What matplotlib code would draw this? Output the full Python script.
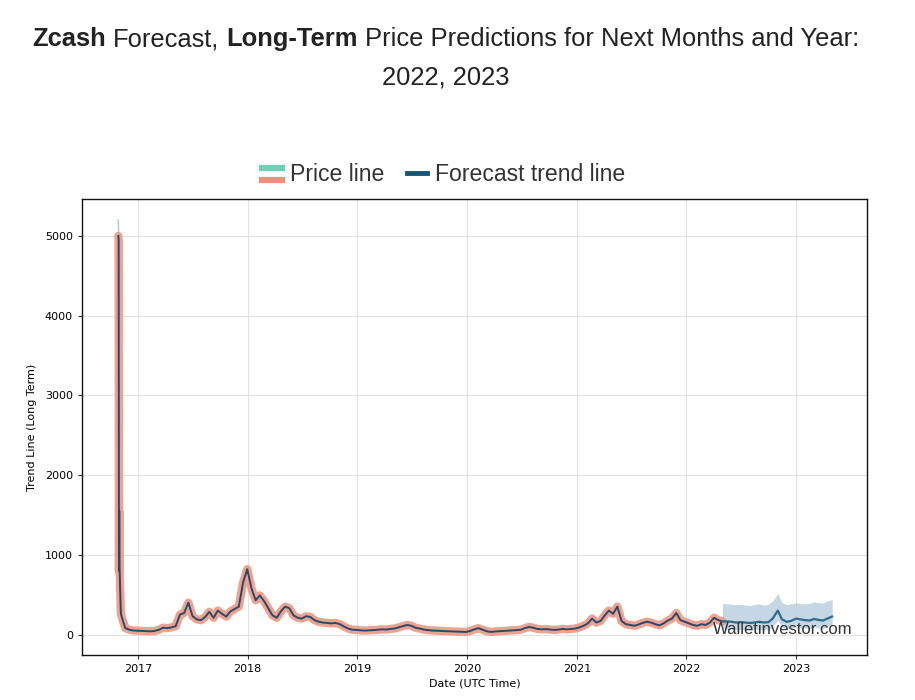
import matplotlib
matplotlib.use("Agg")
import matplotlib.pyplot as plt
import matplotlib.dates as mdates
from matplotlib.lines import Line2D
from matplotlib.legend_handler import HandlerBase
import numpy as np
import pandas as pd

# ---------------- data ----------------
early_dates = ["2016-10-28", "2016-10-29", "2016-10-30", "2016-10-31", "2016-11-01",
               "2016-11-02", "2016-11-03", "2016-11-04", "2016-11-05"]
early_prices = [5000, 4950, 800, 1550, 850, 700, 500, 380, 300]
early_high = [5200, 5000, 1000, 1600, 900, 750, 520, 400, 310]

price_start = "2016-11-06"  # bi-weekly samples
prices = [250, 80, 60, 50, 48, 45, 42, 40, 45, 60,
          85, 80, 90, 105, 250, 270, 400, 230, 190, 180,
          220, 285, 210, 300, 260, 225, 290, 320, 350, 650,
          820, 580, 430, 490, 420, 330, 240, 210, 290, 350,
          330, 240, 210, 200, 230, 220, 180, 160, 150, 145,
          140, 145, 130, 100, 75, 60, 58, 52, 50, 52,
          55, 60, 65, 62, 70, 75, 90, 105, 120, 110,
          85, 75, 62, 55, 50, 48, 45, 42, 40, 38,
          35, 33, 32, 45, 65, 80, 60, 40, 32, 38,
          42, 45, 48, 52, 55, 60, 80, 95, 85, 70,
          65, 68, 62, 58, 62, 70, 65, 70, 75, 90,
          110, 140, 200, 150, 170, 240, 300, 260, 350, 170,
          130, 120, 110, 125, 145, 160, 150, 130, 115, 140,
          175, 200, 270, 180, 160, 140, 120, 110, 130, 120,
          150, 210, 180, 165]

forecast_start = "2022-05-01"  # semi-monthly samples
fc_mid = [165, 165, 160, 150, 155, 150, 145, 150, 160, 150, 155, 200, 300,
          190, 160, 170, 200, 190, 180, 175, 195, 185, 175, 200, 225]
fc_upper = [390, 385, 380, 375, 380, 370, 365, 375, 385, 370, 380, 420, 515,
            400, 375, 385, 395, 390, 385, 390, 410, 400, 395, 420, 440]
fc_lower = [70, 70, 65, 60, 65, 60, 55, 60, 70, 60, 65, 100, 180,
            90, 70, 75, 100, 90, 80, 75, 95, 85, 75, 100, 120]

y_ticks = [0, 1000, 2000, 3000, 4000, 5000]
x_tick_years = [2017, 2018, 2019, 2020, 2021, 2022, 2023]

title_line1 = [("Zcash", "bold"), ("Forecast,", "normal"), ("Long-Term", "bold"),
               ("Price Predictions for Next Months and Year:", "normal")]
title_line2 = "2022, 2023"

# ---------------- build series ----------------
e_dates = pd.to_datetime(early_dates)
p_dates = pd.date_range(price_start, periods=len(prices), freq="14D")
all_dates = e_dates.append(p_dates)
all_prices = list(early_prices) + list(prices)
f_dates = pd.date_range(forecast_start, periods=len(fc_mid), freq="SMS")

# ---------------- figure ----------------
fig = plt.figure(figsize=(9.15, 7.0), dpi=100)
ax = fig.add_axes([82 / 915, 1 - 655 / 700, (867 - 82) / 915, (655 - 199) / 700])

SALMON = "#e9937f"
TEAL = "#6fd1b9"
DARK = "#2c4868"
FC = "#2f6a8c"

ax.plot(e_dates, early_high, color="#a9c4dc", lw=1.0, zorder=2)
ax.plot(all_dates, all_prices, color=SALMON, lw=6.0, alpha=0.85,
        solid_capstyle="round", solid_joinstyle="round", zorder=3)
ax.plot(all_dates, all_prices, color=DARK, lw=1.4, zorder=4)

ax.fill_between(f_dates, fc_lower, fc_upper, color="#bfd2e2", alpha=0.9,
                lw=0, zorder=2)
ax.plot(f_dates, fc_mid, color=FC, lw=1.6, zorder=4)

ax.set_xlim(pd.Timestamp("2016-06-29"), pd.Timestamp("2023-08-25"))
ax.set_ylim(-257, 5464)
ax.set_yticks(y_ticks)
ax.set_xticks([pd.Timestamp(f"{y}-01-01") for y in x_tick_years])
ax.xaxis.set_major_formatter(mdates.DateFormatter("%Y"))
ax.tick_params(axis="both", labelsize=8, length=3, width=0.8, color="#333333")
ax.grid(True, color="#e3e3e3", lw=0.8)
ax.set_axisbelow(True)
for s in ax.spines.values():
    s.set_color("#111111")
    s.set_linewidth(1.0)

ax.set_ylabel("Trend Line (Long Term)", fontsize=8, labelpad=6)
ax.set_xlabel("Date (UTC Time)", fontsize=8, labelpad=3)

ax.text(0.804, 0.057, "Walletinvestor.com", transform=ax.transAxes,
        fontsize=12, family="Liberation Sans", color="#333333",
        ha="left", va="center", zorder=6)


# legend with stacked handle
class StackedHandler(HandlerBase):
    def create_artists(self, legend, orig_handle, xdescent, ydescent,
                       width, height, fontsize, trans):
        l1 = Line2D([0, width], [height * 0.85, height * 0.85], color=TEAL,
                    lw=4.5, transform=trans)
        l2 = Line2D([0, width], [height * 0.05, height * 0.05], color=SALMON,
                    lw=4.5, transform=trans)
        return [l1, l2]


price_handle = Line2D([], [], color=SALMON)
fc_handle = Line2D([], [], color="#1a5276", lw=3.5)
leg = ax.legend([price_handle, fc_handle], ["Price line", "Forecast trend line"],
                handler_map={price_handle: StackedHandler()},
                loc="lower center", bbox_to_anchor=(0.461, 0.995), ncol=2,
                frameon=False, prop={"family": "Liberation Sans", "size": 16.6},
                handlelength=0.85, handletextpad=0.35, columnspacing=1.0,
                borderaxespad=0.25)
for t in leg.get_texts():
    t.set_color("#333333")

# title with mixed weights
renderer = fig.canvas.get_renderer()
TFS = 18.4
tprops = dict(family="Liberation Sans", fontsize=TFS, color="#222222")


def text_width(s, weight):
    t = fig.text(0, 0, s, fontweight=weight, **tprops)
    w = t.get_window_extent(renderer=renderer).width
    t.remove()
    return w


space_w = text_width("a a", "normal") - text_width("aa", "normal")
widths = [text_width(s, w) for s, w in title_line1]
total = sum(widths) + space_w * (len(widths) - 1)
x = 445.5 - total / 2
y1 = 700 - 46
for (s, w), wd in zip(title_line1, widths):
    fig.text(x / 915, y1 / 700, s, fontweight=w, ha="left", va="baseline", **tprops)
    x += wd + space_w
fig.text(445.5 / 915, (700 - 84) / 700, title_line2, ha="center", va="baseline",
         fontweight="normal", **tprops)

fig.savefig("out.png", dpi=100)
